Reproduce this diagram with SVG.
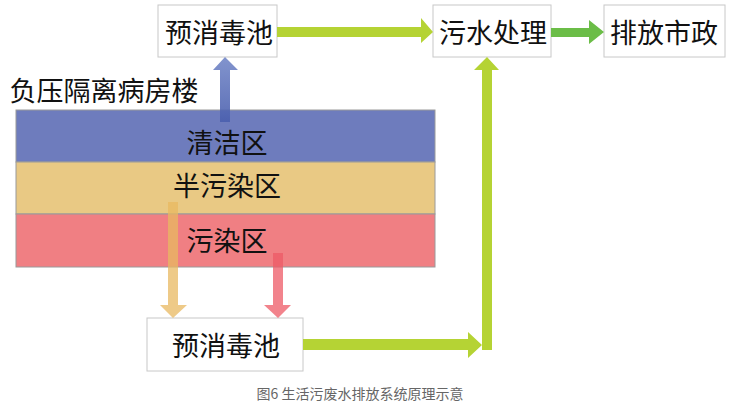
<svg xmlns="http://www.w3.org/2000/svg" width="737" height="405" viewBox="0 0 737 405">
<style>
.box{fill:#fff;stroke:#c8c8c8;stroke-width:1}
.t{font-family:"Noto Sans CJK SC",sans-serif;font-size:27px;fill:#111;text-anchor:middle}
.cap{font-family:"Noto Sans CJK SC",sans-serif;font-size:14px;fill:#666;text-anchor:middle}
.zone{stroke:#9a9a9a;stroke-width:1}
</style>
<defs>
<linearGradient id="gb" x1="0" y1="1" x2="0" y2="0"><stop offset="0" stop-color="#4a5fae"/><stop offset="1" stop-color="#7488c8"/></linearGradient>
</defs>
<rect width="737" height="405" fill="#fff"/>
<g id="building">
<text class="t" x="104" y="101">负压隔离病房楼</text>
</g>
<g id="zone-clean"><rect class="zone" x="16" y="110" width="419" height="52" fill="#6e7cbd"/><text class="t" x="227" y="153">清洁区</text></g>
<g id="zone-semi"><rect class="zone" x="16" y="162" width="419" height="52" fill="#e9c984"/><text class="t" x="227" y="196">半污染区</text></g>
<g id="zone-dirty"><rect class="zone" x="16" y="214" width="419" height="53" fill="#f07f83"/><text class="t" x="227" y="251">污染区</text></g>
<g id="pre1"><rect class="box" x="158" y="5" width="119" height="52"/><text class="t" x="219" y="43">预消毒池</text></g>
<g id="treat"><rect class="box" x="433" y="5" width="118" height="52"/><text class="t" x="493" y="43">污水处理</text></g>
<g id="discharge"><rect class="box" x="604" y="5" width="121" height="52"/><text class="t" x="664" y="43">排放市政</text></g>
<g id="pre2"><rect class="box" x="147" y="318" width="156" height="53"/><text class="t" x="226" y="356">预消毒池</text></g>
<g id="connectors">
<polygon points="220,122 220,70 213,70 225,57 238,70 230,70 230,122" fill="url(#gb)" opacity="0.9"/>
<polygon points="277,27 421,27 421,18 433,32 421,43 421,37 277,37" fill="#b5d334"/>
<polygon points="551,28 589,28 589,20 604,32 589,44 589,37 551,37" fill="#6bbd47"/>
<polygon points="168,202 168,305 160,305 173,318 187,305 178,305 178,202" fill="#e8b860" opacity="0.75"/>
<polygon points="273,253 273,305 264,305 278,318 291,305 283,305 283,253" fill="#ee5a66" opacity="0.75"/>
<polygon points="303,339 468,339 468,332 482,345 468,358 468,350 303,350" fill="#b5d334"/>
<polygon points="482,350 482,70 474,70 487,57 499,70 492,70 492,350" fill="#b5d334"/>
</g>
<text class="cap" x="360" y="399">图6 生活污废水排放系统原理示意</text>
</svg>
